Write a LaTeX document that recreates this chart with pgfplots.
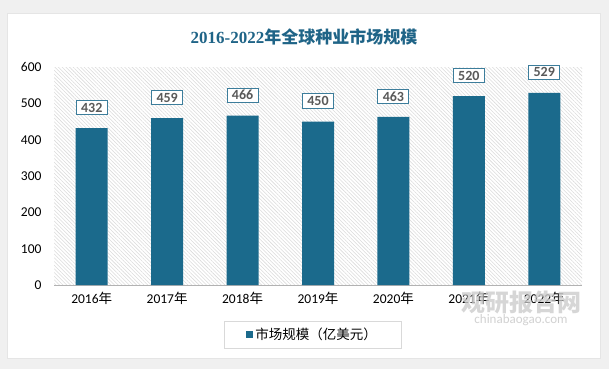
\documentclass[border=0pt]{standalone}
\usepackage{fontspec}
\usepackage{pgfplots}
\pgfplotsset{compat=1.18}
\usetikzlibrary{patterns.meta}
\setmainfont{Carlito}
\newfontfamily\lblfont{Carlito Bold}
\newfontfamily\cjk{Noto Sans CJK SC}
\newfontfamily\tserif{Liberation Serif}
\definecolor{barblue}{RGB}{27,106,140}
\definecolor{titleblue}{RGB}{31,100,135}
\definecolor{lblborder}{RGB}{60,125,155}
\begin{document}
\begin{tikzpicture}[x=1pt,y=1pt]
\fill[gray!12] (0,0) rectangle (609,369);
\fill[gray!20] (7,10) rectangle (601,356);
\fill[white] (8,11) rectangle (600,355);
\node[text=titleblue, font=\fontsize{17}{20}\selectfont\bfseries] at (304,332) {{\tserif 2016-2022}{\cjk 年全球种业市场规模}};
\begin{axis}[
  at={(54pt,84pt)}, anchor=south west,
  scale only axis, width=528pt, height=218pt,
  ybar, bar width=32pt,
  xmin=-0.5, xmax=6.5, ymin=0, ymax=600,
  xtick=data,
  xticklabels={2016{\cjk 年},2017{\cjk 年},2018{\cjk 年},2019{\cjk 年},2020{\cjk 年},2021{\cjk 年},2022{\cjk 年}},
  ytick={0,100,...,600},
  /pgf/number format/assume math mode=true,
  axis x line=bottom, axis y line=left,
  x axis line style={-, draw=gray!60, line width=1pt},
  y axis line style={draw=none},
  major tick length=0pt,
  tick label style={font=\fontsize{13.5}{15}\selectfont, text=black},
  yticklabel style={xshift=-9pt},
  xticklabel style={yshift=-4pt},
  axis background/.style={fill=white, postaction={pattern={Lines[angle=-45,distance=2.6pt,line width=0.55pt]}, pattern color=gray!28}},
  nodes near coords={{\lblfont\pgfmathprintnumber{\pgfplotspointmeta}}},
  nodes near coords style={font=\lblfont\fontsize{14}{15}\selectfont, text=gray!70!black, draw=lblborder, line width=1pt, fill=white, minimum width=31pt, minimum height=14pt, inner sep=0pt, anchor=south, yshift=13pt},
  legend style={at={(0.49,-0.229)}, anchor=center, draw=gray!30, inner xsep=22pt, inner ysep=5pt, font=\cjk\fontsize{13.5}{16}\selectfont},
  legend image code/.code={\fill[barblue] (0pt,-3.5pt) rectangle (7pt,3.5pt);},
]
\addplot[fill=barblue, draw=none] coordinates {(0,432) (1,459) (2,466) (3,450) (4,463) (5,520) (6,529)};
\addlegendentry{市场规模（亿美元）}
\end{axis}
\node[text=gray!40, opacity=0.8, font=\cjk\bfseries\fontsize{24}{26}\selectfont] at (521,67) {观研报告网};
\node[text=gray!45, opacity=0.8, font=\fontsize{13}{15}\selectfont] at (521,49) {chinabaogao.com};
\end{tikzpicture}
\end{document}
